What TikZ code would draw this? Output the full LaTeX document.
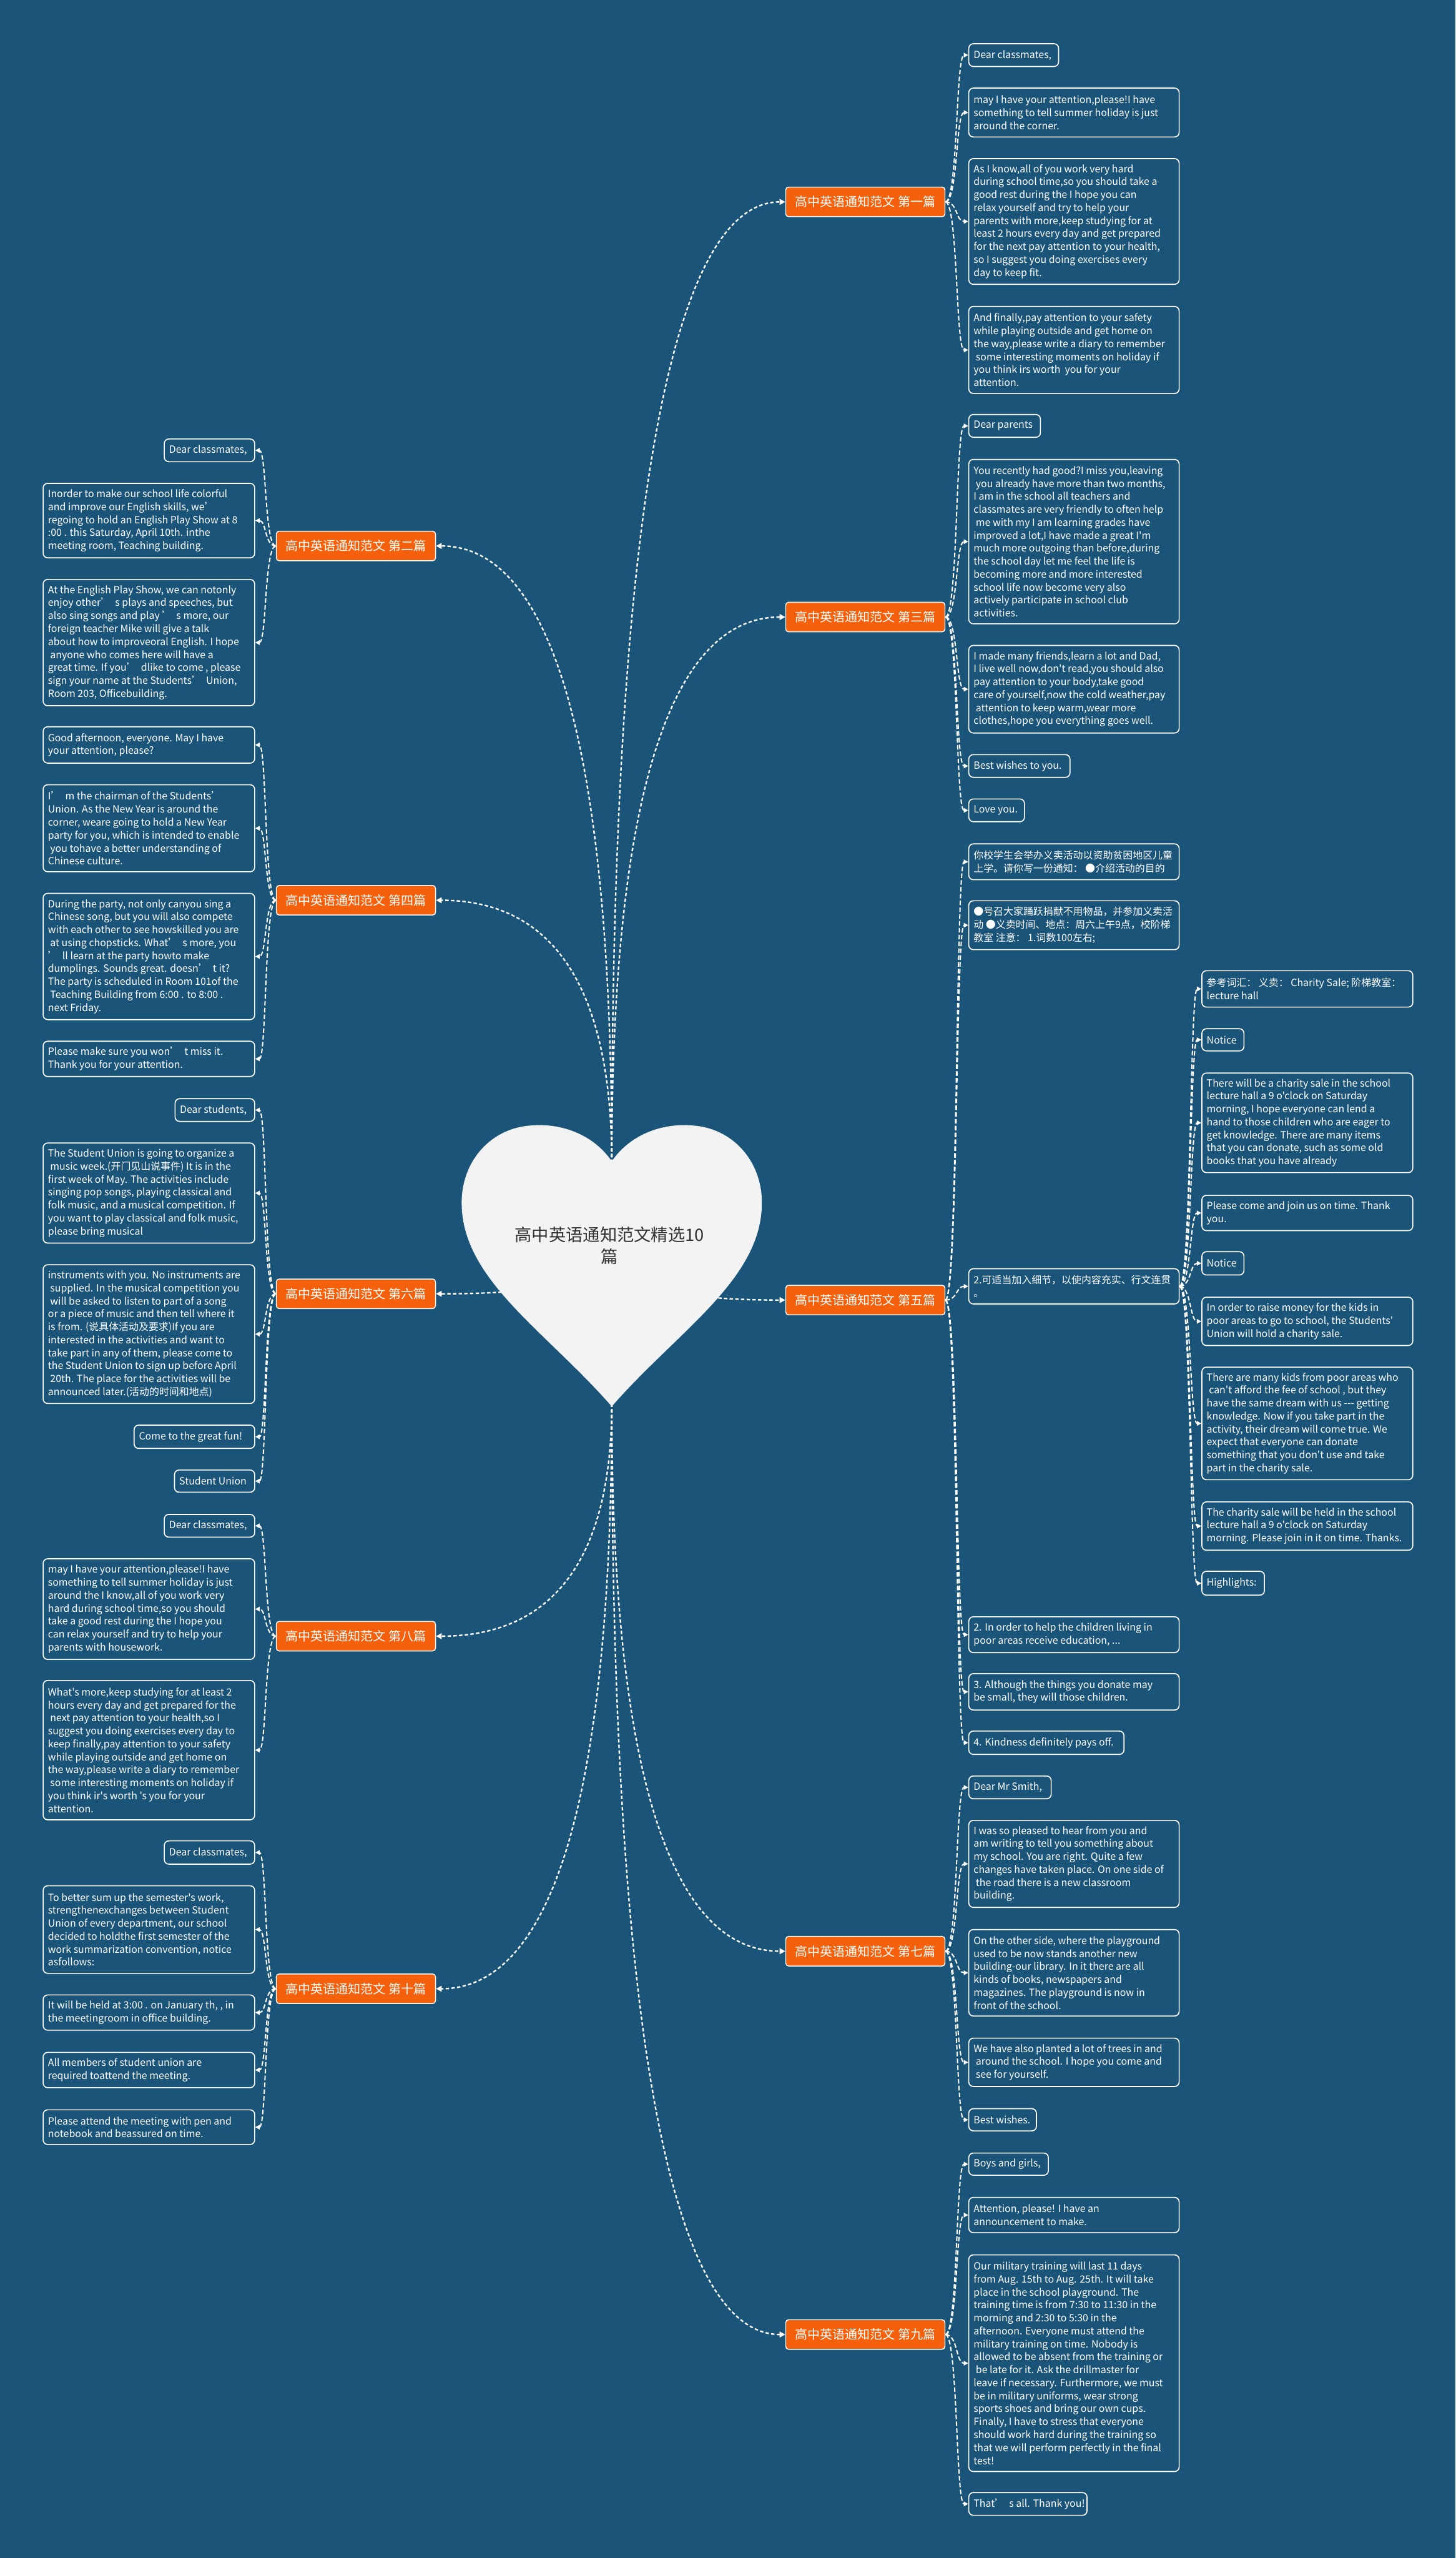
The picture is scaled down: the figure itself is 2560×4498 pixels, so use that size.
\documentclass[tikz,border=0pt]{standalone}
\usepackage{fontspec}
\setmainfont{Noto Sans CJK SC}[Ligatures=TeXOff]
\usetikzlibrary{arrows.meta,calc}
\definecolor{bgc}{HTML}{1B5479}
\definecolor{orc}{HTML}{F4600C}
\definecolor{hrt}{HTML}{F3F3F3}
\definecolor{htx}{HTML}{333333}
\tikzset{
 leafbox/.style={rectangle, draw=white, line width=0.9pt, rounded corners=4pt, inner sep=0pt},
 leaftext/.style={inner sep=0pt, align=left, text=white, font=\fontsize{8.75pt}{11.4pt}\selectfont},
 labbox/.style={rectangle, draw=white, line width=0.8pt, fill=orc, rounded corners=2.5pt, text=white, font=\fontsize{11pt}{13pt}\selectfont, minimum width=140pt, minimum height=26pt, inner sep=0pt},
 conn/.style={white, line width=1.1pt, dash pattern=on 4pt off 2pt, -{Triangle[length=4pt,width=4pt]}},
 mainconn/.style={white, line width=1.3pt, dash pattern=on 3pt off 2pt, -{Triangle[length=5pt,width=5pt]}},
}
\newcommand\mmleaf[6]{%
 \pgfmathsetmacro\mmw{(#4-#2)*0.5}%
 \pgfmathsetmacro\mmh{(#5-#3)*0.5}%
 \node[leafbox, anchor=north west, minimum width=\mmw pt, minimum height=\mmh pt] (#1) at (#2,#3) {};
 \node[leaftext, anchor=west] at ([xshift=4.5pt]#1.west) {#6};}
\begin{document}
\begin{tikzpicture}[x=0.5pt,y=-0.5pt]
\fill[bgc] (0,0) rectangle (2560,4498);
\useasboundingbox (0,0) rectangle (2560,4498);
\coordinate (hn) at (1076,2045);
\coordinate (hc) at (1076,2200);
\coordinate (ht) at (1076,2468);
% branch labels
\node[labbox] (b1) at (1522,355) {高中英语通知范文 第一篇};
\node[labbox] (b3) at (1522,1085) {高中英语通知范文 第三篇};
\node[labbox] (b5) at (1522,2286) {高中英语通知范文 第五篇};
\node[labbox] (b7) at (1522,3431) {高中英语通知范文 第七篇};
\node[labbox] (b9) at (1522,4105) {高中英语通知范文 第九篇};
\node[labbox] (b2) at (626,960) {高中英语通知范文 第二篇};
\node[labbox] (b4) at (626,1583) {高中英语通知范文 第四篇};
\node[labbox] (b6) at (626,2275) {高中英语通知范文 第六篇};
\node[labbox] (b8) at (626,2877) {高中英语通知范文 第八篇};
\node[labbox] (b10) at (626,3497) {高中英语通知范文 第十篇};
% main connectors (quadratic-like curves)
\foreach \s/\b/\a in {hn/b1/west,hn/b3/west,hc/b5/west,ht/b7/west,ht/b9/west,hn/b2/east,hn/b4/east,hc/b6/east,ht/b8/east,ht/b10/east}
 \draw[mainconn] (\s) .. controls ($(\s)!0.667!(\s |- \b.\a)$) and ($(\b.\a)!0.667!(\s |- \b.\a)$) .. (\b.\a);
% heart
\fill[hrt] (1076,2042) .. controls (1040,1990) and (980,1975) .. (935,1979)
 .. controls (865,1983) and (812,2040) .. (812,2115)
 .. controls (812,2250) and (960,2340) .. (1076,2473)
 .. controls (1192,2340) and (1340,2250) .. (1340,2115)
 .. controls (1340,2040) and (1287,1983) .. (1217,1979)
 .. controls (1172,1975) and (1112,1990) .. (1076,2042) -- cycle;
\node[font=\fontsize{15pt}{19pt}\selectfont, text=htx, align=center] (root) at (1072,2190) {高中英语通知范文精选10\\篇};
% ---- right: 1
\mmleaf{r1a}{1703}{76}{1861}{116}{Dear classmates,}
\mmleaf{r1b}{1703}{154}{2073}{240}{may I have your attention,please!I have\\something to tell summer holiday is just\\around the corner.}
\mmleaf{r1c}{1703}{278}{2073}{499}{As I know,all of you work very hard\\during school time,so you should take a\\good rest during the I hope you can\\relax yourself and try to help your\\parents with more,keep studying for at\\least 2 hours every day and get prepared\\for the next pay attention to your health,\\so I suggest you doing exercises every\\day to keep fit.}
\mmleaf{r1d}{1703}{538}{2073}{691}{And finally,pay attention to your safety\\while playing outside and get home on\\the way,please write a diary to remember\\\ some interesting moments on holiday if\\you think irs worth \ you for your\\attention.}
% ---- right: 3
\mmleaf{r3a}{1703}{728}{1829}{768}{Dear parents}
\mmleaf{r3b}{1703}{807}{2073}{1096}{You recently had good?I miss you,leaving\\\ you already have more than two months,\\I am in the school all teachers and\\classmates are very friendly to often help\\\ me with my I am learning grades have\\improved a lot,I have made a great I'm\\much more outgoing than before,during\\the school day let me feel the life is\\becoming more and more interested\\school life now become very also\\actively participate in school club\\activities.}
\mmleaf{r3c}{1703}{1134}{2073}{1288}{I made many friends,learn a lot and Dad,\\I live well now,don't read,you should also\\pay attention to your body,take good\\care of yourself,now the cold weather,pay\\\ attention to keep warm,wear more\\clothes,hope you everything goes well.}
\mmleaf{r3d}{1703}{1326}{1881}{1366}{Best wishes to you.}
\mmleaf{r3e}{1703}{1404}{1801}{1444}{Love you.}
% ---- right: 5
\mmleaf{r5a}{1703}{1483}{2073}{1546}{你校学生会举办义卖活动以资助贫困地区儿童\\上学。请你写一份通知： ●介绍活动的目的}
\mmleaf{r5b}{1703}{1583}{2073}{1669}{●号召大家踊跃捐献不用物品，并参加义卖活\\动 ●义卖时间、地点：周六上午9点，校阶梯\\教室 注意： 1.词数100左右;}
\mmleaf{r5c}{1703}{2230}{2073}{2292}{2.可适当加入细节，以使内容充实、行文连贯\\。}
\mmleaf{r5d}{1703}{2842}{2073}{2905}{2. In order to help the children living in\\poor areas receive education, ...}
\mmleaf{r5e}{1703}{2942}{2073}{3006}{3. Although the things you donate may\\be small, they will those children.}
\mmleaf{r5f}{1703}{3043}{1976}{3084}{4. Kindness definitely pays off.}
% sub column
\mmleaf{s1}{2113}{1706}{2484}{1770}{参考词汇： 义卖： Charity Sale; 阶梯教室：\\lecture hall}
\mmleaf{s2}{2113}{1808}{2187}{1847}{Notice}
\mmleaf{s3}{2113}{1886}{2484}{2061}{There will be a charity sale in the school\\lecture hall a 9 o'clock on Saturday\\morning, I hope everyone can lend a\\hand to those children who are eager to\\get knowledge. There are many items\\that you can donate, such as some old\\books that you have already}
\mmleaf{s4}{2113}{2101}{2484}{2163}{Please come and join us on time. Thank\\you.}
\mmleaf{s5}{2113}{2200}{2187}{2241}{Notice}
\mmleaf{s6}{2113}{2280}{2484}{2365}{In order to raise money for the kids in\\poor areas to go to school, the Students'\\Union will hold a charity sale.}
\mmleaf{s7}{2113}{2403}{2484}{2601}{There are many kids from poor areas who\\\ can't afford the fee of school , but they\\have the same dream with us --- getting\\knowledge. Now if you take part in the\\activity, their dream will come true. We\\expect that everyone can donate\\something that you don't use and take\\part in the charity sale.}
\mmleaf{s8}{2113}{2640}{2484}{2725}{The charity sale will be held in the school\\lecture hall a 9 o'clock on Saturday\\morning. Please join in it on time. Thanks.}
\mmleaf{s9}{2113}{2762}{2223}{2804}{Highlights:}
% ---- right: 7
\mmleaf{r7a}{1703}{3122}{1848}{3162}{Dear Mr Smith,}
\mmleaf{r7b}{1703}{3200}{2073}{3353}{I was so pleased to hear from you and\\am writing to tell you something about\\my school. You are right. Quite a few\\changes have taken place. On one side of\\\ the road there is a new classroom\\building.}
\mmleaf{r7c}{1703}{3392}{2073}{3544}{On the other side, where the playground\\used to be now stands another new\\building-our library. In it there are all\\kinds of books, newspapers and\\magazines. The playground is now in\\front of the school.}
\mmleaf{r7d}{1703}{3583}{2073}{3668}{We have also planted a lot of trees in and\\\ around the school. I hope you come and\\\ see for yourself.}
\mmleaf{r7e}{1703}{3707}{1822}{3746}{Best wishes.}
% ---- right: 9
\mmleaf{r9a}{1703}{3785}{1843}{3824}{Boys and girls,}
\mmleaf{r9b}{1703}{3863}{2073}{3925}{Attention, please! I have an\\announcement to make.}
\mmleaf{r9c}{1703}{3964}{2073}{4345}{Our military training will last 11 days\\from Aug. 15th to Aug. 25th. It will take\\place in the school playground. The\\training time is from 7:30 to 11:30 in the\\morning and 2:30 to 5:30 in the\\afternoon. Everyone must attend the\\military training on time. Nobody is\\allowed to be absent from the training or\\\ be late for it. Ask the drillmaster for\\leave if necessary. Furthermore, we must\\be in military uniforms, wear strong\\sports shoes and bring our own cups.\\Finally, I have to stress that everyone\\should work hard during the training so\\that we will perform perfectly in the final\\test!}
\mmleaf{r9d}{1703}{4382}{1911}{4422}{That’ \ s all. Thank you!}
% ---- left: 2
\mmleaf{l2a}{288}{771}{447}{811}{Dear classmates,}
\mmleaf{l2b}{75}{849}{447}{980}{Inorder to make our school life colorful\\and improve our English skills, we’\\regoing to hold an English Play Show at 8\\:00 . this Saturday, April 10th. inthe\\meeting room, Teaching building.}
\mmleaf{l2c}{75}{1018}{447}{1240}{At the English Play Show, we can notonly\\enjoy other’ \ s plays and speeches, but\\also sing songs and play ’ \ s more, our\\foreign teacher Mike will give a talk\\about how to improveoral English. I hope\\\ anyone who comes here will have a\\great time. If you’ \ dlike to come , please\\sign your name at the Students’ \ Union,\\Room 203, Officebuilding.}
% ---- left: 4
\mmleaf{l4a}{75}{1277}{447}{1341}{Good afternoon, everyone. May I have\\your attention, please?}
\mmleaf{l4b}{75}{1379}{447}{1532}{I’ \ m the chairman of the Students’\\Union. As the New Year is around the\\corner, weare going to hold a New Year\\party for you, which is intended to enable\\\ you tohave a better understanding of\\Chinese culture.}
\mmleaf{l4c}{75}{1570}{447}{1792}{During the party, not only canyou sing a\\Chinese song, but you will also compete\\with each other to see howskilled you are\\\ at using chopsticks. What’ \ s more, you\\’ \ ll learn at the party howto make\\dumplings. Sounds great. doesn’ \ t it?\\The party is scheduled in Room 101of the\\\ Teaching Building from 6:00 . to 8:00 .\\next Friday.}
\mmleaf{l4d}{75}{1830}{447}{1892}{Please make sure you won’ \ t miss it.\\Thank you for your attention.}
% ---- left: 6
\mmleaf{l6a}{307}{1931}{447}{1971}{Dear students,}
\mmleaf{l6b}{75}{2009}{447}{2185}{The Student Union is going to organize a\\\ music week.(开门见山说事件) It is in the\\first week of May. The activities include\\singing pop songs, playing classical and\\folk music, and a musical competition. If\\you want to play classical and folk music,\\please bring musical}
\mmleaf{l6c}{75}{2223}{447}{2467}{instruments with you. No instruments are\\\ supplied. In the musical competition you\\\ will be asked to listen to part of a song\\or a piece of music and then tell where it\\is from. (说具体活动及要求)If you are\\interested in the activities and want to\\take part in any of them, please come to\\the Student Union to sign up before April\\\ 20th. The place for the activities will be\\announced later.(活动的时间和地点)}
\mmleaf{l6d}{235}{2505}{447}{2546}{Come to the great fun!}
\mmleaf{l6e}{306}{2584}{447}{2623}{Student Union}
% ---- left: 8
\mmleaf{l8a}{288}{2662}{447}{2702}{Dear classmates,}
\mmleaf{l8b}{75}{2740}{447}{2917}{may I have your attention,please!I have\\something to tell summer holiday is just\\around the I know,all of you work very\\hard during school time,so you should\\take a good rest during the I hope you\\can relax yourself and try to help your\\parents with housework.}
\mmleaf{l8c}{75}{2954}{447}{3199}{What's more,keep studying for at least 2\\hours every day and get prepared for the\\\ next pay attention to your health,so I\\suggest you doing exercises every day to\\keep finally,pay attention to your safety\\while playing outside and get home on\\the way,please write a diary to remember\\\ some interesting moments on holiday if\\you think ir's worth 's you for your\\attention.}
% ---- left: 10
\mmleaf{l10a}{288}{3236}{447}{3277}{Dear classmates,}
\mmleaf{l10b}{75}{3315}{447}{3469}{To better sum up the semester's work,\\strengthenexchanges between Student\\Union of every department, our school\\decided to holdthe first semester of the\\work summarization convention, notice\\asfollows:}
\mmleaf{l10c}{75}{3507}{447}{3569}{It will be held at 3:00 . on January th, , in\\the meetingroom in office building.}
\mmleaf{l10d}{75}{3608}{447}{3670}{All members of student union are\\required toattend the meeting.}
\mmleaf{l10e}{75}{3709}{447}{3770}{Please attend the meeting with pen and\\notebook and beassured on time.}
% ---- leaf connectors
\foreach \n in {r1a,r1b,r1c,r1d} \draw[conn] (b1.east) .. controls +(22,0) and +(-22,0) .. (\n.west);
\foreach \n in {r3a,r3b,r3c,r3d,r3e} \draw[conn] (b3.east) .. controls +(22,0) and +(-22,0) .. (\n.west);
\foreach \n in {r5a,r5b,r5c,r5d,r5e,r5f} \draw[conn] (b5.east) .. controls +(22,0) and +(-22,0) .. (\n.west);
\foreach \n in {s1,s2,s3,s4,s5,s6,s7,s8,s9} \draw[conn] (r5c.east) .. controls +(20,0) and +(-20,0) .. (\n.west);
\foreach \n in {r7a,r7b,r7c,r7d,r7e} \draw[conn] (b7.east) .. controls +(22,0) and +(-22,0) .. (\n.west);
\foreach \n in {r9a,r9b,r9c,r9d} \draw[conn] (b9.east) .. controls +(22,0) and +(-22,0) .. (\n.west);
\foreach \n in {l2a,l2b,l2c} \draw[conn] (b2.west) .. controls +(-20,0) and +(20,0) .. (\n.east);
\foreach \n in {l4a,l4b,l4c,l4d} \draw[conn] (b4.west) .. controls +(-20,0) and +(20,0) .. (\n.east);
\foreach \n in {l6a,l6b,l6c,l6d,l6e} \draw[conn] (b6.west) .. controls +(-20,0) and +(20,0) .. (\n.east);
\foreach \n in {l8a,l8b,l8c} \draw[conn] (b8.west) .. controls +(-20,0) and +(20,0) .. (\n.east);
\foreach \n in {l10a,l10b,l10c,l10d,l10e} \draw[conn] (b10.west) .. controls +(-20,0) and +(20,0) .. (\n.east);
\end{tikzpicture}
\end{document}
